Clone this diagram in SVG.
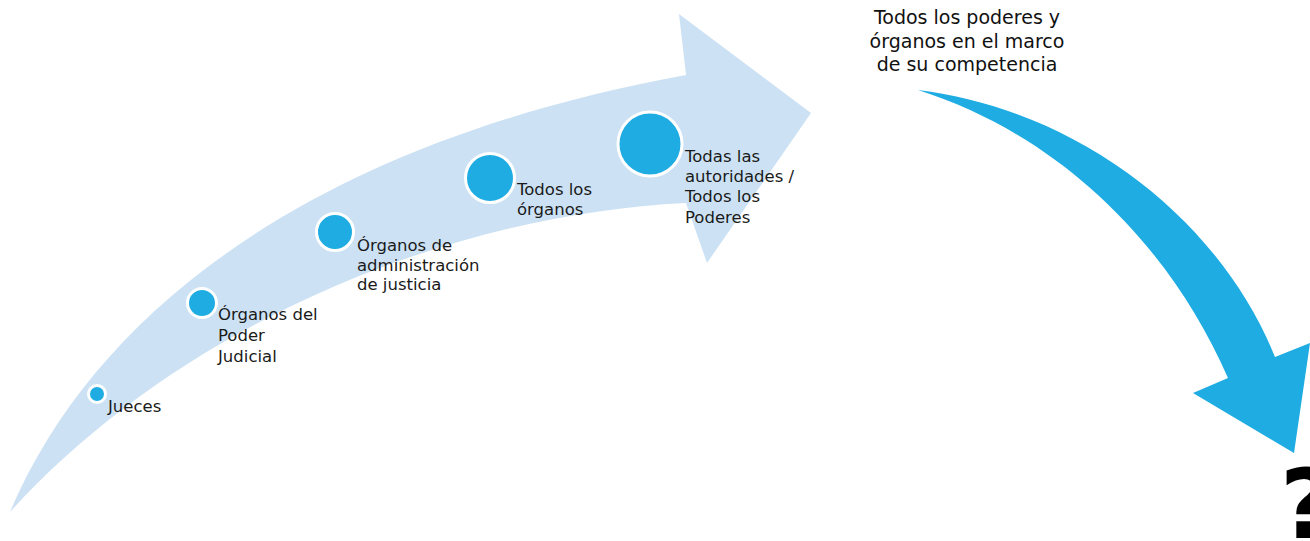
<svg xmlns="http://www.w3.org/2000/svg" width="1310" height="541" viewBox="0 0 1310 541">
<style>
.bg{fill:#ffffff}
.band{fill:#cce2f4}
.dot{fill:#1eace2;stroke:#ffffff;stroke-width:3}
.lbl{font-family:"DejaVu Sans","Liberation Sans",sans-serif;font-size:16.5px;fill:#1a1a1a}
.top{font-family:"DejaVu Sans","Liberation Sans",sans-serif;font-size:19px;fill:#111111;text-anchor:middle}
.q{font-family:"DejaVu Sans","Liberation Sans",sans-serif;font-size:96px;font-weight:bold;fill:#000000}
.conn{fill:#1eace2}
</style>
<rect class="bg" x="0" y="0" width="1310" height="541"/>
<g id="band-arrow">
<path class="band" d="M10,512 C100,300 330,140 686,75 L679,14 L811,113 L707,263 L686,203 C440,215 175,330 10,512 Z"/>
</g>
<g id="connectors">
<path class="conn" d="M918,90 C1080,110 1220,220 1275,357 L1310,343 L1294,453 L1193,393 L1228,378 C1170,245 1060,135 918,90 Z"/>
</g>
<g id="node-jueces">
<circle class="dot" cx="97" cy="394" r="8.5"/>
<text class="lbl" x="108" y="412">Jueces</text>
</g>
<g id="node-organos-pj">
<circle class="dot" cx="202" cy="303" r="14.5"/>
<text class="lbl" x="218" y="320">Órganos del</text>
<text class="lbl" x="218" y="341">Poder</text>
<text class="lbl" x="218" y="362">Judicial</text>
</g>
<g id="node-organos-admin">
<circle class="dot" cx="335" cy="232" r="18.5"/>
<text class="lbl" x="357" y="251">Órganos de</text>
<text class="lbl" x="357" y="271">administración</text>
<text class="lbl" x="357" y="290">de justicia</text>
</g>
<g id="node-todos-organos">
<circle class="dot" cx="490" cy="178" r="24.5"/>
<text class="lbl" x="517" y="195">Todos los</text>
<text class="lbl" x="517" y="215">órganos</text>
</g>
<g id="node-todas-autoridades">
<circle class="dot" cx="650" cy="144" r="32"/>
<text class="lbl" x="685" y="162">Todas las</text>
<text class="lbl" x="685" y="182">autoridades /</text>
<text class="lbl" x="685" y="202">Todos los</text>
<text class="lbl" x="685" y="223">Poderes</text>
</g>
<g id="node-competencia">
<text class="top" x="967" y="24">Todos los poderes y</text>
<text class="top" x="967" y="48">órganos en el marco</text>
<text class="top" x="967" y="71">de su competencia</text>
</g>
<g id="node-question">
<text class="q" x="1280" y="538">?</text>
</g>
</svg>
